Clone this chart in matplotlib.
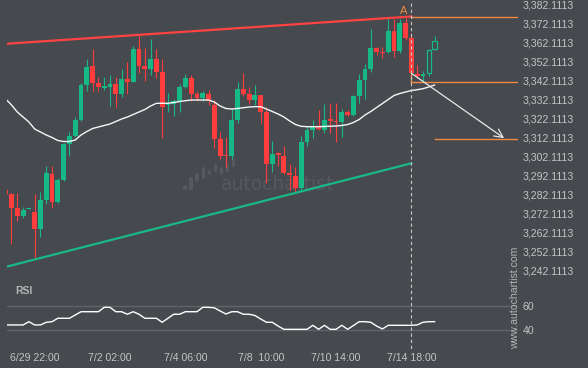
import matplotlib
matplotlib.use('Agg')
import matplotlib.pyplot as plt
from matplotlib.patches import Rectangle, FancyBboxPatch
from matplotlib import transforms

plt.rcParams['font.family'] = ['Liberation Sans', 'DejaVu Sans']

# ---------------- data ----------------
opens = [3284.57, 3282.30, 3275.24, 3271.02, 3274.71, 3272.97, 3264.01, 3279.30, 3293.01, 3278.40,
         3289.84, 3308.82, 3313.04, 3321.48, 3339.93, 3349.95, 3340.83, 3338.61, 3339.04, 3340.46,
         3335.19, 3342.94, 3341.51, 3358.91, 3349.95, 3348.37, 3353.64, 3346.95, 3329.39, 3329.91,
         3331.50, 3338.88, 3343.62, 3335.35, 3333.24, 3335.35, 3329.39, 3311.46, 3303.18, 3302.66,
         3321.48, 3337.82, 3335.19, 3332.02, 3334.66, 3325.86, 3298.28, 3303.92, 3302.50, 3293.69,
         3291.95, 3285.47, 3310.04, 3316.21, 3317.95, 3316.21, 3322.01, 3320.95, 3320.58, 3325.86,
         3324.12, 3334.13, 3342.57, 3348.37, 3359.60, 3357.49, 3357.49, 3368.40, 3357.86, 3372.78,
         3364.87, 3345.89, 3344.68, 3346.10, 3358.76]
highs = [3285.10, 3283.15, 3282.83, 3275.45, 3275.08, 3282.46, 3283.36, 3297.22, 3297.22, 3290.74,
         3309.51, 3315.31, 3322.90, 3340.83, 3353.48, 3358.76, 3343.99, 3344.31, 3345.21, 3344.31,
         3348.21, 3351.90, 3360.65, 3366.30, 3359.60, 3364.19, 3358.76, 3353.64, 3335.56, 3332.55,
         3340.46, 3345.73, 3345.21, 3336.77, 3336.77, 3337.30, 3332.02, 3315.31, 3312.67, 3327.12,
         3341.67, 3346.10, 3339.04, 3339.77, 3334.66, 3328.49, 3310.56, 3304.61, 3307.77, 3298.28,
         3296.86, 3313.20, 3318.32, 3321.48, 3326.75, 3329.91, 3330.28, 3330.28, 3327.12, 3326.75,
         3334.66, 3345.57, 3350.85, 3369.30, 3360.13, 3360.13, 3374.73, 3374.73, 3374.73, 3375.10,
         3367.19, 3350.48, 3347.31, 3358.76, 3365.77]
lows = [3281.41, 3255.94, 3268.38, 3269.97, 3274.71, 3248.03, 3259.63, 3277.03, 3274.92, 3277.56,
        3289.48, 3302.50, 3312.67, 3320.95, 3336.93, 3336.77, 3336.93, 3337.30, 3328.86, 3328.18,
        3333.45, 3335.19, 3341.51, 3346.10, 3342.20, 3345.21, 3343.47, 3311.83, 3325.86, 3323.75,
        3325.86, 3338.19, 3331.65, 3331.65, 3331.65, 3329.39, 3306.56, 3300.92, 3296.86, 3300.76,
        3320.06, 3334.13, 3329.91, 3329.39, 3320.06, 3288.10, 3294.22, 3297.38, 3293.01, 3284.57,
        3283.67, 3284.57, 3307.93, 3311.83, 3316.21, 3314.78, 3314.47, 3310.04, 3312.67, 3323.59,
        3323.59, 3330.28, 3332.55, 3346.95, 3355.75, 3354.01, 3356.65, 3354.85, 3356.65, 3363.66,
        3345.73, 3343.99, 3341.67, 3344.84, 3358.39]
closes = [3282.30, 3275.24, 3271.02, 3274.03, 3275.08, 3264.01, 3279.30, 3293.38, 3278.40, 3289.84,
          3308.82, 3313.04, 3321.48, 3339.93, 3349.42, 3340.83, 3338.72, 3339.04, 3340.46, 3335.19,
          3342.94, 3341.51, 3358.91, 3350.11, 3348.37, 3353.64, 3346.95, 3328.49, 3330.28, 3331.65,
          3338.88, 3343.62, 3335.35, 3333.24, 3335.71, 3331.65, 3311.46, 3302.66, 3302.50, 3321.48,
          3337.82, 3335.19, 3332.02, 3334.66, 3325.86, 3298.28, 3303.55, 3303.18, 3293.69, 3292.48,
          3285.47, 3310.04, 3316.21, 3317.95, 3316.58, 3321.48, 3320.95, 3320.42, 3325.86, 3324.12,
          3334.13, 3342.57, 3348.37, 3359.60, 3357.49, 3356.65, 3368.40, 3357.86, 3372.78, 3364.87,
          3346.10, 3344.84, 3345.89, 3358.39, 3363.13]
hollow = [False] * 73 + [True, True]

ma = [3332.55, 3329.39, 3325.69, 3323.06, 3320.42, 3316.73, 3315.15, 3313.57, 3312.25, 3310.67,
      3310.14, 3310.14, 3310.93, 3313.57, 3315.41, 3317.00, 3317.79, 3318.58, 3319.37, 3320.69,
      3322.01, 3323.06, 3324.37, 3325.69, 3327.01, 3328.86, 3330.28, 3330.28, 3330.28, 3330.70,
      3331.23, 3331.65, 3332.02, 3332.02, 3332.02, 3332.02, 3330.97, 3328.86, 3327.54, 3327.27,
      3327.54, 3327.96, 3328.33, 3328.49, 3328.49, 3327.27, 3325.96, 3324.64, 3323.06, 3320.95,
      3319.10, 3318.15, 3317.95, 3317.95, 3317.95, 3318.05, 3318.21, 3318.31, 3318.58, 3319.10,
      3320.16, 3321.74, 3324.11, 3325.96, 3328.07, 3330.17, 3332.28, 3334.39, 3335.45, 3336.24,
      3337.03, 3337.45, 3337.98, 3338.88, 3339.93]

rsi = [44.4, 44.4, 44.4, 44.4, 47.1, 44.4, 44.4, 46.6, 47.1, 49.9,
       49.9, 49.9, 52.6, 55.3, 55.3, 55.3, 55.3, 58.9, 58.9, 55.3,
       55.3, 53.2, 55.3, 53.2, 49.9, 49.9, 49.9, 46.6, 49.9, 53.2,
       53.2, 55.3, 55.3, 55.3, 58.9, 58.9, 58.5, 55.9, 53.4, 55.3,
       55.3, 53.2, 53.2, 52.2, 49.3, 46.6, 46.6, 43.5, 40.8, 40.8,
       40.8, 40.8, 40.8, 44.1, 40.8, 44.1, 40.8, 40.8, 44.1, 40.8,
       43.9, 47.1, 47.1, 46.6, 43.5, 41.1, 44.1, 44.1, 44.1, 44.1,
       44.1, 44.4, 46.6, 47.1, 47.1]

# trend lines (candle index, price)
resist_x = [0, 70]
resist_y = [3361.65, 3376.05]
support_x = [0, 70]
support_y = [3244.02, 3298.65]

pattern_idx = 70
level_top = 3375.79
level_mid = 3341.51
level_target = 3311.30
arrow_start = (70, 3346.10)
arrow_end = (86.0, 3311.9)
target_start_idx = 74

price_ticks = [3242.1113 + 10 * k for k in range(15)]
rsi_ticks = [40, 60]
xtick_idx = [5, 18, 31, 44, 57, 70]
xtick_labels = ['6/29 22:00', '7/2 02:00', '7/4 06:00', '7/8  10:00', '7/10 14:00', '7/14 18:00']

# ---------------- style ----------------
BG = '#46494d'
UP = '#16b985'
DN = '#ff3d3d'
ORANGE = '#ef8a44'
TXT = '#c4c4c4'
FS = 7.6

W, H = 588, 368
fig = plt.figure(figsize=(W / 100, H / 100), dpi=100, facecolor=BG)

def fr(x0, y0, x1, y1):
    return [x0 / W, 1 - y1 / H, (x1 - x0) / W, (y1 - y0) / H]

ax = fig.add_axes(fr(7, 0, 518, 285))
rx = fig.add_axes(fr(7, 285, 518, 345), sharex=ax)
for a in (ax, rx):
    a.set_facecolor(BG)
    for s in a.spines.values():
        s.set_visible(False)

ax.set_xlim(0.224, 88.40)
ax.set_ylim(3234.48, 3384.746)

# watermark (behind the data)
WM = '#55585c'
ax.text(278 / W, 1 - 185 / H, 'autochartist', color=WM, fontsize=13.5, ha='center', va='center',
        family='DejaVu Sans', transform=fig.transFigure, zorder=1)
for (x0, x1, y0, y1) in [(183, 187, 185, 190), (189, 193, 177, 190), (195, 199, 173, 182),
                         (202, 205, 167, 179), (208, 211, 170, 175), (214, 217, 164, 172),
                         (220, 223, 167, 175), (226, 229, 165, 172), (232, 235, 158, 167)]:
    ax.add_patch(FancyBboxPatch((x0 / W, 1 - y1 / H), (x1 - x0) / W, (y1 - y0) / H,
                                boxstyle='round,pad=0,rounding_size=0.003', transform=fig.transFigure,
                                facecolor=WM, edgecolor='none', zorder=1, clip_on=False))

# candles
for i in range(len(opens)):
    o, h, l, c = opens[i], highs[i], lows[i], closes[i]
    col = UP if c >= o else DN
    ax.plot([i, i], [l, h], color=col, lw=0.8, solid_capstyle='butt', zorder=3)
    bot = min(o, c)
    hgt = max(abs(c - o), 0.55)
    if hollow[i]:
        ax.add_patch(Rectangle((i - 0.38, bot), 0.76, hgt, facecolor=BG, edgecolor=col, lw=0.9, zorder=4))
    else:
        ax.add_patch(Rectangle((i - 0.42, bot), 0.84, hgt, facecolor=col, edgecolor='none', lw=0, zorder=4))

ax.plot(range(len(ma)), ma, color='white', lw=1.0, zorder=5, alpha=0.95)
ax.plot(resist_x, resist_y, color='#ff4242', lw=1.6, zorder=6)
ax.plot(support_x, support_y, color='#19b987', lw=1.6, zorder=6)

xr = ax.get_xlim()[1]
ax.plot([pattern_idx, xr], [level_top, level_top], color=ORANGE, lw=1.0, zorder=6)
ax.plot([pattern_idx, xr], [level_mid, level_mid], color=ORANGE, lw=1.0, zorder=6)
ax.plot([pattern_idx, pattern_idx], [level_mid, arrow_start[1]], color=ORANGE, lw=1.0, zorder=6)
ax.plot([target_start_idx, xr], [level_target, level_target], color=ORANGE, lw=1.0, zorder=6)
ax.annotate('', xy=arrow_end, xytext=arrow_start,
            arrowprops=dict(arrowstyle='->,head_length=0.6,head_width=0.3', color='#e8e8e8', lw=0.9,
                            shrinkA=0, shrinkB=0), zorder=7)
ax.text(pattern_idx - 1.4, 3378.7, 'A', color=ORANGE, fontsize=8, ha='center', va='center', zorder=7)

ax.yaxis.tick_right()
ax.set_yticks(price_ticks)
ax.set_yticklabels([f'{v:,.4f}' for v in price_ticks])
ax.tick_params(axis='y', length=0, pad=3.2, labelsize=FS, labelcolor=TXT)
ax.tick_params(axis='x', length=0, labelbottom=False)

# RSI panel
rx.set_ylim(27.90, 77.28)
rx.plot(range(len(rsi)), rsi, color='white', lw=1.0, zorder=5)
for v in rsi_ticks:
    rx.axhline(v, color='#606368', lw=1.0, zorder=1)
rx.yaxis.tick_right()
rx.set_yticks(rsi_ticks)
rx.set_yticklabels([str(v) for v in rsi_ticks])
rx.tick_params(axis='y', length=0, pad=3.2, labelsize=FS, labelcolor=TXT)
rx.set_xticks(xtick_idx)
rx.set_xticklabels(xtick_labels)
rx.tick_params(axis='x', length=0, pad=6, labelsize=FS, labelcolor=TXT)

# dashed vertical marker across both panels
tr = transforms.blended_transform_factory(ax.transData, fig.transFigure)
fig.add_artist(plt.Line2D([pattern_idx - 0.1, pattern_idx - 0.1], [1 - 3 / H, 1 - 350 / H], transform=tr,
                          color='#c8c8c8', lw=0.8, linestyle=(0, (3, 2.5)), zorder=8))

fig.text(15 / W, 1 - 291 / H, 'RSI', color='#b4b4b4', fontsize=7.5, fontweight='bold', ha='left', va='center')
fig.text(515 / W, 1 - 297.5 / H, 'www.autochartist.com', color='#b4b4b4', fontsize=FS,
         rotation=90, ha='center', va='center')

fig.savefig('out.png', dpi=100, facecolor=BG)
